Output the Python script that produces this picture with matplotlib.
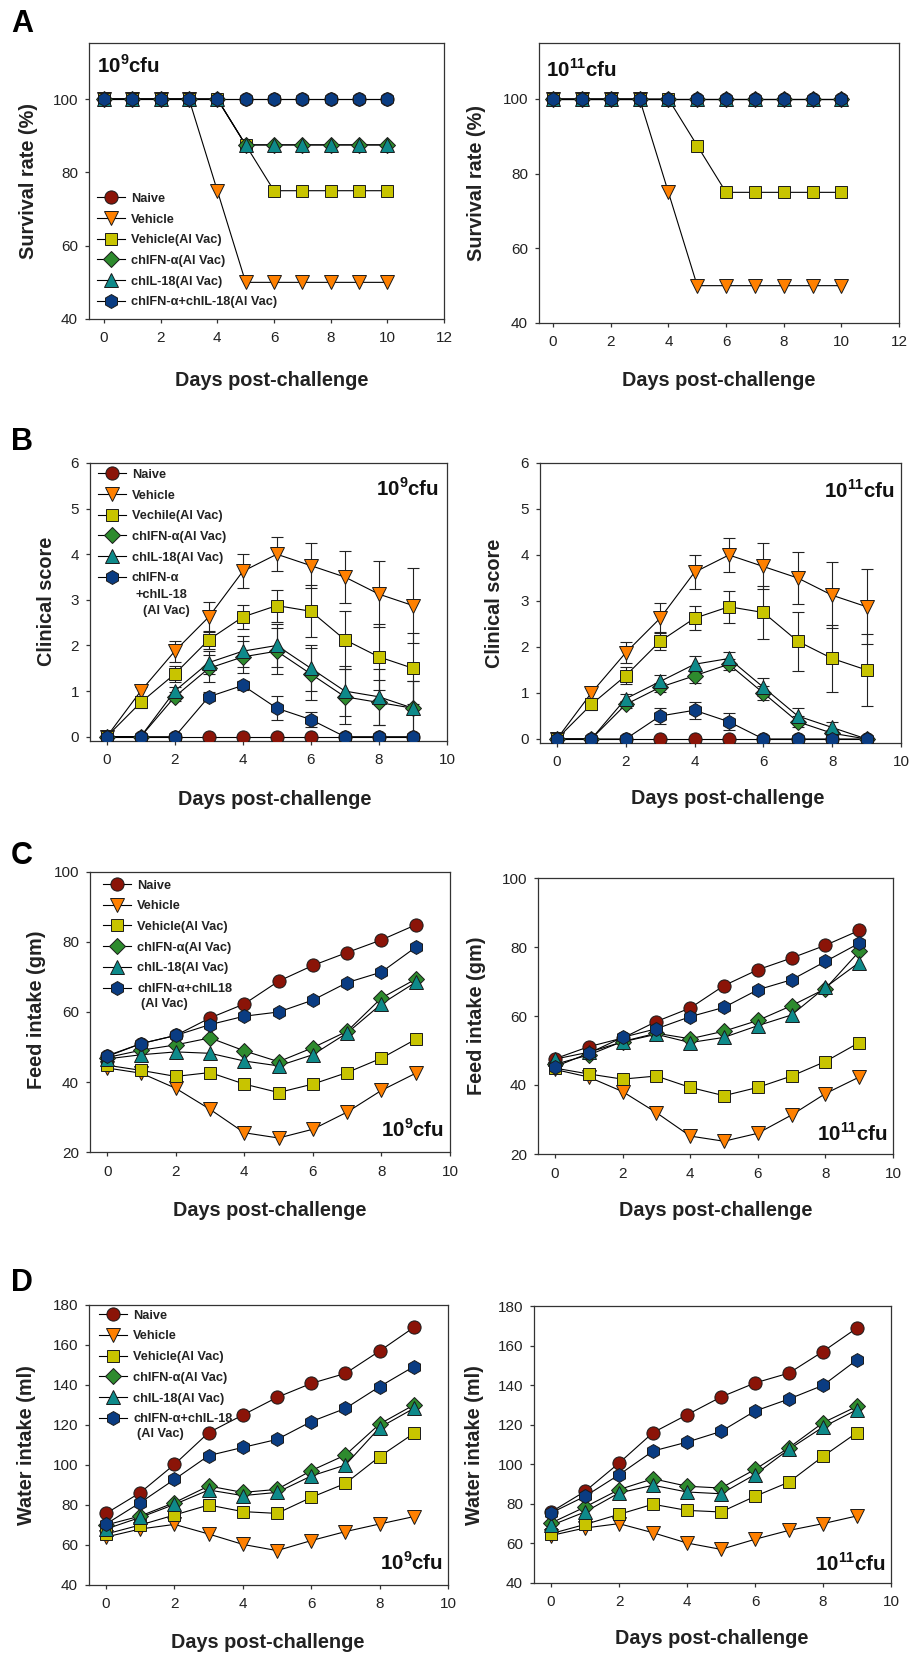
import matplotlib
matplotlib.use("Agg")
import matplotlib.pyplot as plt
from matplotlib.lines import Line2D

plt.rcParams['font.family'] = ['Liberation Sans', 'DejaVu Sans']
plt.rcParams['mathtext.fontset'] = 'custom'
plt.rcParams['mathtext.rm'] = 'Liberation Sans'
plt.rcParams['mathtext.bf'] = 'Liberation Sans:bold'

# ---- data ----
days_a = list(range(11))
days = list(range(10))

# A: survival rate (%)
a9_naive = [100] * 11
a9_vehicle = [100, 100, 100, 100, 75, 50, 50, 50, 50, 50, 50]
a9_vehal = [100, 100, 100, 100, 100, 87.5, 75, 75, 75, 75, 75]
a9_ifn = [100, 100, 100, 100, 100, 87.5, 87.5, 87.5, 87.5, 87.5, 87.5]
a9_il18 = [100, 100, 100, 100, 100, 87.5, 87.5, 87.5, 87.5, 87.5, 87.5]
a9_combo = [100] * 11
a11_naive = [100] * 11
a11_vehicle = [100, 100, 100, 100, 75, 50, 50, 50, 50, 50, 50]
a11_vehal = [100, 100, 100, 100, 100, 87.5, 75, 75, 75, 75, 75]
a11_ifn = [100] * 11
a11_il18 = [100] * 11
a11_combo = [100] * 11

# B: clinical score (mean, SE)
b9_naive = [0] * 10
b9_vehicle = [0, 1.0, 1.875, 2.625, 3.625, 4.0, 3.75, 3.5, 3.125, 2.875]
b9_vehicle_se = [0, 0.1, 0.23, 0.33, 0.375, 0.375, 0.5, 0.57, 0.72, 0.82]
b9_vehal = [0, 0.75, 1.375, 2.125, 2.625, 2.875, 2.75, 2.125, 1.75, 1.5]
b9_vehal_se = [0, 0.12, 0.18, 0.2, 0.26, 0.35, 0.57, 0.64, 0.72, 0.78]
b9_ifn = [0, 0, 0.875, 1.5, 1.75, 1.875, 1.375, 0.875, 0.75, 0.625]
b9_ifn_se = [0, 0, 0.1, 0.3, 0.35, 0.5, 0.57, 0.6, 0.5, 0.6]
b9_il18 = [0, 0, 1.0, 1.625, 1.875, 2.0, 1.5, 1.0, 0.875, 0.625]
b9_il18_se = [0, 0, 0.1, 0.25, 0.34, 0.47, 0.5, 0.55, 0.62, 0.6]
b9_combo = [0, 0, 0, 0.875, 1.125, 0.625, 0.375, 0, 0, 0]
b9_combo_se = [0, 0, 0, 0.1, 0.1, 0.26, 0.17, 0, 0, 0]

b11_naive = [0] * 10
b11_vehicle = [0, 1.0, 1.875, 2.625, 3.625, 4.0, 3.75, 3.5, 3.125, 2.875]
b11_vehicle_se = [0, 0.1, 0.23, 0.33, 0.375, 0.375, 0.5, 0.57, 0.72, 0.82]
b11_vehal = [0, 0.75, 1.375, 2.125, 2.625, 2.875, 2.75, 2.125, 1.75, 1.5]
b11_vehal_se = [0, 0.12, 0.18, 0.2, 0.26, 0.35, 0.57, 0.64, 0.72, 0.78]
b11_ifn = [0, 0, 0.75, 1.125, 1.375, 1.625, 1.0, 0.375, 0.125, 0]
b11_ifn_se = [0, 0, 0.08, 0.1, 0.15, 0.12, 0.15, 0.12, 0.08, 0]
b11_il18 = [0, 0, 0.875, 1.25, 1.625, 1.75, 1.125, 0.5, 0.25, 0]
b11_il18_se = [0, 0, 0.1, 0.15, 0.17, 0.15, 0.2, 0.17, 0.13, 0]
b11_combo = [0, 0, 0, 0.5, 0.625, 0.375, 0, 0, 0, 0]
b11_combo_se = [0, 0, 0, 0.18, 0.18, 0.18, 0, 0, 0, 0]

# C: feed intake (gm)
c9_naive = [47.5, 51, 53.3, 58.3, 62.3, 68.8, 73.3, 77, 80.6, 84.9]
c9_vehicle = [44, 42.5, 38.2, 32.2, 25.5, 24, 26.5, 31.4, 37.6, 42.5]
c9_vehal = [44.8, 43.3, 41.6, 42.7, 39.4, 37, 39.4, 42.7, 46.8, 52.2]
c9_ifn = [47, 49.1, 50.6, 52.6, 48.9, 45.8, 49.8, 54.5, 64, 69.4]
c9_il18 = [46.6, 47.8, 48.6, 48.2, 46, 44.6, 47.8, 54, 62.3, 68.5]
c9_combo = [47.3, 51, 53.3, 56.4, 58.8, 60, 63.4, 68.4, 71.4, 78.5]

c11_naive = [47.6, 51.1, 53.6, 58.4, 62.3, 68.8, 73.4, 76.8, 80.5, 84.8]
c11_vehicle = [44.5, 42.3, 38.1, 32, 25.2, 23.7, 26, 31.3, 37.5, 42.3]
c11_vehal = [44.9, 43.2, 41.7, 42.6, 39.3, 36.9, 39.3, 42.6, 46.8, 52.3]
c11_ifn = [46, 48.7, 52.6, 55, 53.4, 55.6, 58.7, 63, 67.9, 78.7]
c11_il18 = [47.5, 49.5, 52.5, 54.7, 52.3, 53.8, 57.2, 60.3, 68.3, 75.5]
c11_combo = [45.3, 49.2, 53.8, 56.3, 59.8, 62.5, 67.6, 70.5, 75.8, 81.1]

# D: water intake (ml)
d9_naive = [75.8, 86.2, 100.3, 116.2, 125, 133.8, 140.8, 145.8, 157, 168.8]
d9_vehicle = [64, 68, 70.3, 65.5, 60.3, 57.2, 62.2, 66.7, 70.5, 74.2]
d9_vehal = [65.5, 70, 75, 80, 76.7, 75.8, 83.8, 90.8, 104.2, 115.8]
d9_ifn = [70, 74.5, 81.2, 89.5, 86.3, 87.8, 97.2, 105, 120.5, 130]
d9_il18 = [68, 73.8, 80.3, 87.5, 84.7, 86.3, 94.5, 100, 118.7, 128.3]
d9_combo = [70.5, 81.2, 92.8, 104.7, 108.8, 112.8, 121.7, 128.3, 139.2, 149.2]

d11_naive = [75.9, 86.3, 100.6, 116, 125, 134, 141.1, 146.1, 157, 168.9]
d11_vehicle = [64, 67.8, 70, 65.4, 60.2, 57, 62.1, 66.6, 70, 73.9]
d11_vehal = [64.9, 69.6, 74.7, 79.8, 76.7, 75.9, 83.8, 91, 104, 116]
d11_ifn = [70.3, 78.4, 87.2, 92.7, 88.9, 88, 97.4, 108.4, 121, 129.3]
d11_il18 = [69.1, 75.9, 85.5, 89.4, 86, 85.1, 94.8, 107.6, 118.8, 127.6]
d11_combo = [75.4, 83.8, 94.7, 106.7, 111.2, 116.6, 126.9, 133, 139.9, 152.8]

group_colors = ['#8B1408', '#FF8000', '#C8C400', '#2E8B2E', '#0E8A8A', '#0A3C82']
group_markers = ['o', 'v', 's', 'D', '^', 'h']
group_msizes = [9.5, 9.5, 8, 8, 9.5, 10]

FIG_W, FIG_H = 911, 1653
fig = plt.figure(figsize=(FIG_W / 100, FIG_H / 100), dpi=100)

LEG_FS = 9.2


def px_axes(x0, y0, x1, y1):
    return fig.add_axes([x0 / FIG_W, 1 - y1 / FIG_H, (x1 - x0) / FIG_W, (y1 - y0) / FIG_H])


def fig_text(x, y, s, **kw):
    fig.text(x / FIG_W, 1 - y / FIG_H, s, **kw)


def style(ax, xlim, ylim, xticks, yticks):
    ax.set_xlim(*xlim)
    ax.set_ylim(*ylim)
    ax.set_xticks(xticks)
    ax.set_yticks(yticks)
    for sp in ax.spines.values():
        sp.set_color('#333333')
        sp.set_linewidth(0.9)
    ax.tick_params(direction='out', length=3, width=0.9, color='#333333',
                   labelsize=11, labelcolor='#222222')
    ax.tick_params(axis='x', pad=6)
    ax.tick_params(axis='y', pad=5)


def draw_series(ax, x, series, errs=None):
    for i, y in enumerate(series):
        ax.plot(x, y, color='black', lw=0.8, zorder=2)
        if errs is not None and errs[i] is not None:
            ax.errorbar(x, y, yerr=errs[i], fmt='none', ecolor='#222222',
                        elinewidth=0.8, capsize=4, capthick=0.8, zorder=2)
    for i, y in enumerate(series):
        ax.plot(x, y, ls='none', marker=group_markers[i], ms=group_msizes[i],
                mfc=group_colors[i], mec='#1a1a1a', mew=0.7, zorder=3)


def add_legend(ax, labels, anchor):
    handles = [Line2D([], [], color='black', lw=0.8, marker=group_markers[i],
                      ms=group_msizes[i], mfc=group_colors[i], mec='#1a1a1a', mew=0.7)
               for i in range(6)]
    leg = ax.legend(handles, labels, loc='upper left', bbox_to_anchor=anchor,
                    frameon=False, borderpad=0, borderaxespad=0, numpoints=1,
                    handlelength=2.2, handletextpad=0.47, labelspacing=0.68,
                    prop={'weight': 'bold', 'size': LEG_FS})
    for t in leg.get_texts():
        t.set_color('#222222')
    return leg


def extra_lines(ax, leg, lines, start):
    # continuation lines of the last (wrapped) legend label
    t = leg.get_texts()[-1]
    for k, (s, dx) in enumerate(lines):
        ax.annotate(s, xy=(0, 0), xycoords=t, xytext=(dx, -11.2 * k + start),
                    textcoords='offset points', ha='left', va='top', zorder=10,
                    fontsize=LEG_FS, fontweight='bold', color='#222222')


def cfu(ax, exp, x, y, ha):
    ax.text(x, y, r'10$^{\mathbf{%s}}$cfu' % exp, transform=ax.transAxes, ha=ha,
            va='center', fontsize=14.8, fontweight='bold', color='#111111')


label_kw = dict(fontsize=14.3, fontweight='bold', color='#222222')
letter_kw = dict(fontsize=22, fontweight='bold', ha='center', va='center')
xlab = 'Days post-challenge'

# ---- A ----
ax = px_axes(89, 43, 444, 319)
style(ax, (-0.53, 12), (40, 115.3), range(0, 13, 2), [40, 60, 80, 100])
draw_series(ax, days_a, [a9_naive, a9_vehicle, a9_vehal, a9_ifn, a9_il18, a9_combo])
add_legend(ax, ['Naive', 'Vehicle', 'Vehicle(Al Vac)', 'chIFN-α(Al Vac)',
                'chIL-18(Al Vac)', 'chIFN-α+chIL-18(Al Vac)'], (0.022, 0.457))
cfu(ax, '9', 0.023, 0.92, 'left')

ax = px_axes(539, 43, 899, 323)
style(ax, (-0.49, 12), (40, 115), range(0, 13, 2), [40, 60, 80, 100])
draw_series(ax, days_a, [a11_naive, a11_vehicle, a11_vehal, a11_ifn, a11_il18, a11_combo])
cfu(ax, '11', 0.02, 0.904, 'left')

# ---- B ----
ax = px_axes(90, 463, 447, 741)
style(ax, (-0.49, 10), (-0.094, 6), range(0, 11, 2), range(0, 7))
draw_series(ax, days, [b9_naive, b9_vehicle, b9_vehal, b9_ifn, b9_il18, b9_combo],
            [None, b9_vehicle_se, b9_vehal_se, b9_ifn_se, b9_il18_se, b9_combo_se])
leg = add_legend(ax, ['Naive', 'Vehicle', 'Vechile(Al Vac)', 'chIFN-α(Al Vac)',
                      'chIL-18(Al Vac)', 'chIFN-α'], (0.022, 0.979))
extra_lines(ax, leg, [('+chIL-18', 2.4), ('(Al Vac)', 7.7)], -3.5)
cfu(ax, '9', 0.978, 0.91, 'right')

ax = px_axes(540, 463, 901, 743)
style(ax, (-0.49, 10), (-0.087, 6), range(0, 11, 2), range(0, 7))
draw_series(ax, days, [b11_naive, b11_vehicle, b11_vehal, b11_ifn, b11_il18, b11_combo],
            [None, b11_vehicle_se, b11_vehal_se, b11_ifn_se, b11_il18_se, b11_combo_se])
cfu(ax, '11', 0.983, 0.903, 'right')

# ---- C ----
ax = px_axes(90, 872, 450, 1152)
style(ax, (-0.5, 10), (20, 100), range(0, 11, 2), range(20, 101, 20))
draw_series(ax, days, [c9_naive, c9_vehicle, c9_vehal, c9_ifn, c9_il18, c9_combo])
leg = add_legend(ax, ['Naive', 'Vehicle', 'Vehicle(Al Vac)', 'chIFN-α(Al Vac)',
                      'chIL-18(Al Vac)', 'chIFN-α+chIL18'], (0.036, 0.973))
extra_lines(ax, leg, [('(Al Vac)', 2.9)], -2.2)
cfu(ax, '9', 0.983, 0.079, 'right')

ax = px_axes(538, 878, 893, 1154)
style(ax, (-0.5, 10), (20, 100), range(0, 11, 2), range(20, 101, 20))
draw_series(ax, days, [c11_naive, c11_vehicle, c11_vehal, c11_ifn, c11_il18, c11_combo])
cfu(ax, '11', 0.986, 0.076, 'right')

# ---- D ----
ax = px_axes(89, 1305, 448, 1585)
style(ax, (-0.5, 10), (40, 180), range(0, 11, 2), range(40, 181, 20))
draw_series(ax, days, [d9_naive, d9_vehicle, d9_vehal, d9_ifn, d9_il18, d9_combo])
leg = add_legend(ax, ['Naive', 'Vehicle', 'Vehicle(Al Vac)', 'chIFN-α(Al Vac)',
                      'chIL-18(Al Vac)', 'chIFN-α+chIL-18'], (0.028, 0.983))
extra_lines(ax, leg, [('(Al Vac)', 2.9)], -2.2)
cfu(ax, '9', 0.986, 0.079, 'right')

ax = px_axes(534, 1306, 891, 1583)
style(ax, (-0.5, 10), (40, 180), range(0, 11, 2), range(40, 181, 20))
draw_series(ax, days, [d11_naive, d11_vehicle, d11_vehal, d11_ifn, d11_il18, d11_combo])
cfu(ax, '11', 0.986, 0.072, 'right')

# ---- axis labels and panel letters ----
for (x, y) in [(272, 380), (719, 381), (275, 800), (728, 799),
               (270, 1210), (716, 1210), (268, 1643), (712, 1638)]:
    fig_text(x, y, xlab, ha='center', va='center', **label_kw)

ylabels = [('Survival rate (%)', 29, 181), ('Survival rate (%)', 477, 183),
           ('Clinical score', 47, 601), ('Clinical score', 495, 603),
           ('Feed intake (gm)', 37, 1010), ('Feed intake (gm)', 477, 1016),
           ('Water intake (ml)', 27, 1445), ('Water intake (ml)', 474, 1445)]
for s, x, y in ylabels:
    fig_text(x, y, s, ha='center', va='center', rotation=90, **label_kw)

for s, y in [('A', 24), ('B', 442), ('C', 856), ('D', 1283)]:
    fig_text(22, y, s, **letter_kw)

fig.savefig('out.png', dpi=100)
